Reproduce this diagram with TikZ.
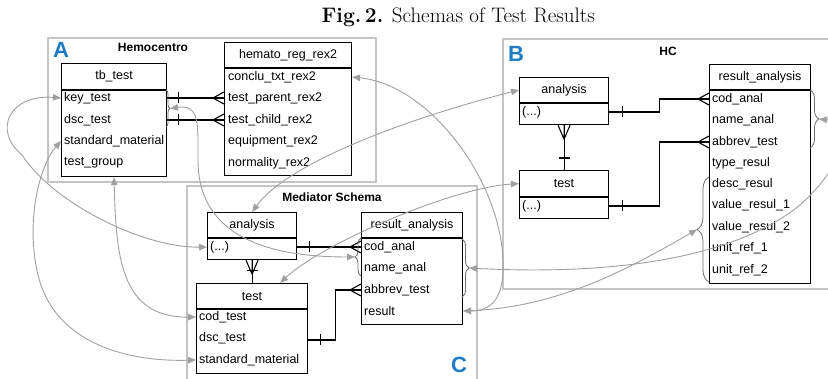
\documentclass[tikz,border=0pt]{standalone}
\usepackage{fontspec}
\newfontfamily\arial{Liberation Sans}
\usetikzlibrary{arrows.meta,decorations.pathreplacing,calc}
\definecolor{framegray}{HTML}{C4C4C4}
\definecolor{linkgray}{HTML}{A0A0A0}
\definecolor{bracegray}{HTML}{6E6E6E}
\definecolor{letterblue}{HTML}{1E7DC2}
\newcommand{\tabfont}{\arial\fontsize{12.5}{15}\selectfont}
\newcommand{\erbox}[7]{%
  \node[hdr, minimum width=#4, minimum height=#5, anchor=north west] (#1h) at (#2,#3) {#7};
  \node[bdy, minimum width=#4, minimum height=#6, anchor=north west] (#1b) at (#1h.south west) {};
}
\tikzset{
  hdr/.style={draw=black, line width=1.1pt, fill=white, inner sep=0pt, font=\tabfont},
  bdy/.style={draw=black, line width=1.1pt, fill=white, inner sep=0pt},
  row/.style={anchor=west, inner sep=0pt, font=\tabfont},
  er/.style={draw=black, line width=1.1pt},
  frm/.style={draw=framegray, line width=1.1pt},
  lbl/.style={font=\arial\bfseries\fontsize{12}{14}\selectfont, anchor=base, inner sep=0pt},
  bigletter/.style={font=\arial\bfseries\fontsize{22}{22}\selectfont, text=letterblue, anchor=base west, inner sep=0pt},
  brc/.style={draw=bracegray, line width=0.8pt, decorate, decoration={brace, amplitude=#1}},
  mapcurve/.style={draw=linkgray, line width=0.9pt, {Triangle[length=8pt,width=6.5pt]}-{Triangle[length=8pt,width=6.5pt]}},
  onebar/.pic={\draw[er] (0,-5.5) -- (0,5.5);},
  crowR/.pic={\draw[er] (-11,0) -- (0,-6) (-11,0) -- (0,0) (-11,0) -- (0,6);},
  crowU/.pic={\draw[er] (0,14) -- (-6,0) (0,14) -- (0,0) (0,14) -- (6,0);},
}
\begin{document}
\begin{tikzpicture}[x=1pt,y=-1pt]
\clip (0,0) rectangle (828,379);
\fill[white] (0,0) rectangle (828,379);

% title
\node[anchor=base east, inner sep=0pt] (title) at (595,22.5) {\fontsize{21}{24}\selectfont\textbf{Fig.\,2.} Schemas of Test Results};

% frames
\draw[frm] (48,38) rectangle (376,182);
\draw[frm] (503,39) rectangle (840,289);
\draw[frm] (187,186) rectangle (477,395);

\node[bigletter] (la) at (53,58) {A};
\node[bigletter] (lb) at (508,62) {B};
\node[bigletter] (lc) at (451,373) {C};
\node[lbl] (hemo) at (153,51.5) {Hemocentro};
\node[lbl] (hcl) at (668,55.5) {HC};
\node[lbl] (medl) at (332,201.5) {Mediator Schema};

% ---------- A: Hemocentro ----------
\erbox{tb}{61}{63}{105}{26}{86}{tb\_test}
\node[row] (tbk) at (64,98) {key\_test};
\node[row] (tbd) at (64,120) {dsc\_test};
\node[row] (tbs) at (64,141) {standard\_material};
\node[row] (tbg) at (64,163) {test\_group};

\erbox{hm}{224}{42}{127}{25}{107}{hemato\_reg\_rex2}
\node[row] (hc1) at (228,77) {conclu\_txt\_rex2};
\node[row] (hc2) at (228,98) {test\_parent\_rex2};
\node[row] (hc3) at (228,120) {test\_child\_rex2};
\node[row] (hc4) at (228,141) {equipment\_rex2};
\node[row] (hc5) at (228,163) {normality\_rex2};

\draw[er] (tbb.east |- tbk) -- (hmb.west |- hc2);
\draw[er] (tbb.east |- tbd) -- (hmb.west |- hc3);
\pic at ($(tbb.east |- tbk)+(11,0)$) {onebar};
\pic at ($(tbb.east |- tbd)+(11,0)$) {onebar};
\pic at (hmb.west |- hc2) {crowR};
\pic at (hmb.west |- hc3) {crowR};
\draw[brc=4] (166,90) -- (166,127);
\coordinate (tbtip) at (170,108.5);

% ---------- B: HC ----------
\erbox{ha}{519}{77}{89}{25}{21}{analysis}
\node[row] (ban) at (522,112) {(...)};
\erbox{ht}{519}{170}{89}{26}{21}{test}
\node[row] (bte) at (522,206) {(...)};
\erbox{hr}{709}{64}{101}{25}{193}{result\_analysis}
\node[row] (r1) at (712,99) {cod\_anal};
\node[row] (r2) at (712,120) {name\_anal};
\node[row] (r3) at (712,142) {abbrev\_test};
\node[row] (r4) at (712,163) {type\_resul};
\node[row] (r5) at (712,184) {desc\_resul};
\node[row] (r6) at (712,205) {value\_resul\_1};
\node[row] (r7) at (712,227) {value\_resul\_2};
\node[row] (r8) at (712,248) {unit\_ref\_1};
\node[row] (r9) at (712,270) {unit\_ref\_2};

\draw[er] (hab.east |- ban) -- ++(50,0) |- (hrb.west |- r1);
\draw[er] (htb.east |- bte) -- ++(50,0) |- (hrb.west |- r3);
\pic at ($(hab.east |- ban)+(13,0)$) {onebar};
\pic at ($(htb.east |- bte)+(13,0)$) {onebar};
\pic at (hrb.west |- r1) {crowR};
\pic at (hrb.west |- r3) {crowR};
\draw[er] (hab.south) -- (hth.north);
\pic at (hab.south) {crowU};
\pic[rotate=90] at ($(hth.north)+(0,-12)$) {onebar};
\draw[brc=9] (810,90) -- (810,148);
\coordinate (hrtip) at (819,119);
\draw[brc=12] (709,282) -- (709,177);
\coordinate (hltip) at (697,229.5);

% ---------- C: Mediator ----------
\erbox{ma}{207}{212}{89}{25}{21}{analysis}
\node[row] (man) at (210,247) {(...)};
\erbox{mt}{196}{283}{111}{25}{64}{test}
\node[row] (mt1) at (199,317) {cod\_test};
\node[row] (mt2) at (199,338) {dsc\_test};
\node[row] (mt3) at (199,360) {standard\_material};
\erbox{mr}{361}{212}{101}{25}{86}{result\_analysis}
\node[row] (m1) at (364,247) {cod\_anal};
\node[row] (m2) at (364,268) {name\_anal};
\node[row] (m3) at (364,290) {abbrev\_test};
\node[row] (m4) at (364,311) {result};

\draw[er] (mab.east |- man) -- (mrb.west |- m1);
\pic at ($(mab.east |- man)+(12,0)$) {onebar};
\pic at (mrb.west |- m1) {crowR};
\draw[er] (mtb.east |- 0,340) -- ++(27,0) |- (mrb.west |- m3);
\pic at ($(mtb.east |- 0,340)+(12,0)$) {onebar};
\pic at (mrb.west |- m3) {crowR};
\draw[er] (mab.south) -- (mth.north);
\pic at (mab.south) {crowU};
\pic[rotate=90] at ($(mab.south)+(0,10)$) {onebar};
\draw[brc=6] (361,276) -- (361,238);
\coordinate (mltip) at (355,257);
\draw[brc=7] (462,239) -- (462,297);
\coordinate (mrtip) at (469,268);
\coordinate (mttop) at ($(mth.north west)!0.75!(mth.north east)$);

% ---------- mapping curves ----------
\draw[mapcurve] (tbb.west |- tbk) .. controls (10,94) and (-8,130) .. (22,155)
   .. controls (55,205) and (145,248) .. (mab.west |- man);
\draw[mapcurve] (tbb.south) .. controls (116,255) and (120,318) .. (mtb.west |- mt1);
\draw[mapcurve] (tbb.west |- tbs) .. controls (40,165) and (25,220) .. (38,275)
   .. controls (55,345) and (130,362) .. (mtb.west |- mt3);
\draw[mapcurve] (tbtip) .. controls (200,104) and (198,125) .. (198,160)
   .. controls (198,235) and (265,257) .. (mltip);
\draw[mapcurve] (hmb.east |- hc1) .. controls (430,85) and (500,180) .. (503,260)
   .. controls (505,300) and (490,311) .. (mrb.east |- m4);
\draw[mapcurve] (hah.west) .. controls (420,115) and (290,160) .. (mah.north);
\draw[mapcurve] (hth.west) .. controls (450,188) and (320,245) .. (mttop);
\draw[mapcurve] (hrtip) .. controls (850,122) and (850,160) .. (800,205)
   .. controls (730,262) and (600,275) .. (mrtip);
\draw[mapcurve] (hltip) .. controls (630,268) and (560,307) .. (mrb.east |- m4);
\end{tikzpicture}
\end{document}
